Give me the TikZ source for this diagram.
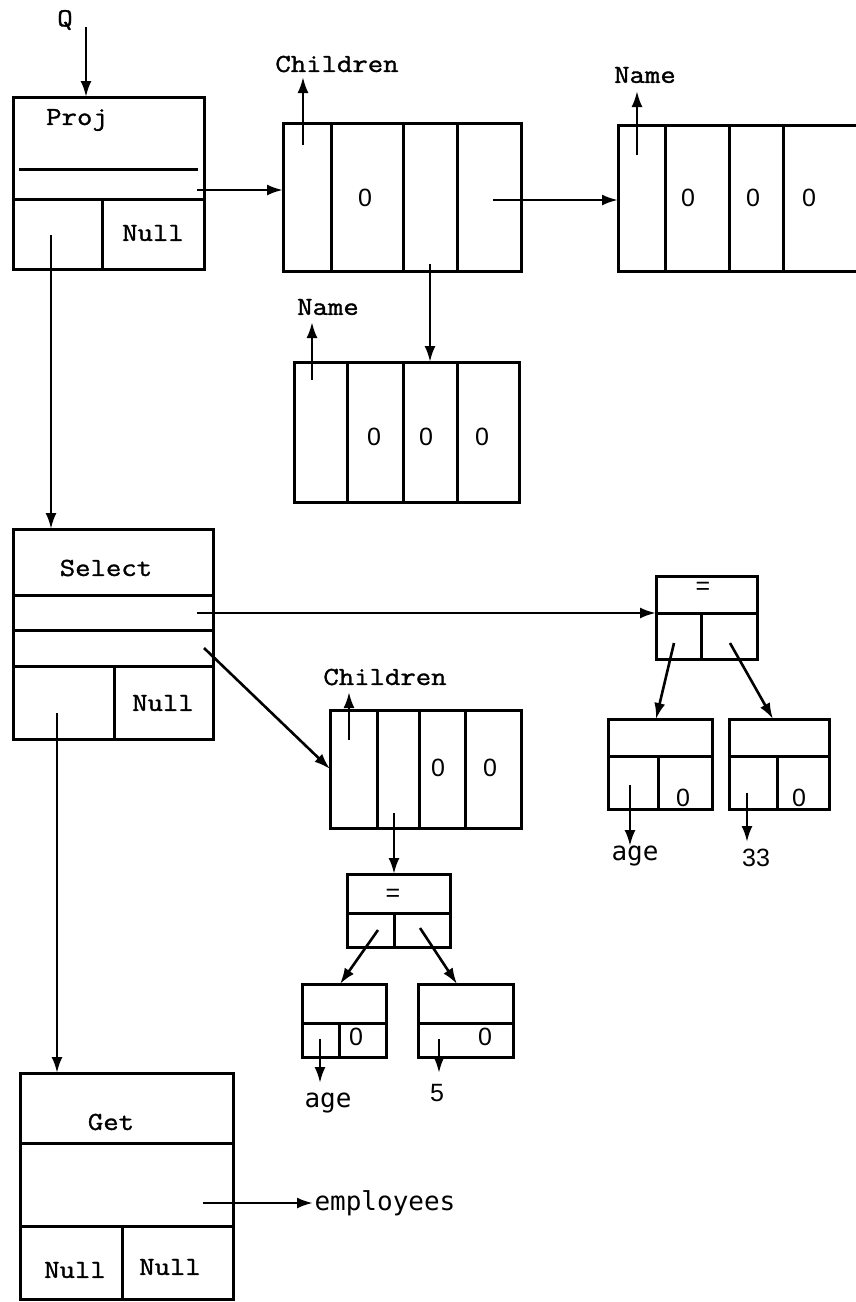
\documentclass[tikz,border=0pt]{standalone}
\usepackage{fontspec}
\usetikzlibrary{arrows.meta}
\newfontfamily\courf[FakeStretch=1.15,FakeBold=1.3]{Latin Modern Mono}
\newfontfamily\dvsf{DejaVu Sans Mono}
\newfontfamily\lsf{Liberation Sans}
\begin{document}
\begin{tikzpicture}[x=1pt,y=-1pt,line width=3pt,
  cell/.style={draw, rectangle, inner sep=0pt, outer sep=0pt, anchor=north west},
  arr/.style={-{Latex[length=16pt,width=11pt]}, line width=2.6pt},
  lbl/.style={font=\courf\fontsize{26}{30}\selectfont, inner sep=0pt},
  wrd/.style={font=\dvsf\fontsize{26}{30}\selectfont, inner sep=0pt},
  num/.style={font=\lsf\fontsize{25}{30}\selectfont, inner sep=0pt}]
\useasboundingbox (0,0) rectangle (856,1302);
\fill[white] (0,0) rectangle (856,1302);

% ---------- boxes ----------
\node[cell, minimum width=191pt, minimum height=172pt] (proj) at (13,97) {};
\node[cell, minimum width=238pt, minimum height=148pt] (ch1) at (283,123) {};
\node[cell, draw=none, minimum width=245pt, minimum height=146pt] (nm1) at (618,125) {};
\node[cell, minimum width=225pt, minimum height=140pt] (nm2) at (294,362) {};
\node[cell, minimum width=200pt, minimum height=210pt] (sel) at (13,529) {};
\node[cell, minimum width=101pt, minimum height=83pt] (eqr) at (656,576) {};
\node[cell, minimum width=104pt, minimum height=90pt] (la) at (608,719) {};
\node[cell, minimum width=100pt, minimum height=90pt] (lb) at (729,719) {};
\node[cell, minimum width=191pt, minimum height=118pt] (ch2) at (330,710) {};
\node[cell, minimum width=103pt, minimum height=73pt] (eqm) at (347,874) {};
\node[cell, minimum width=84pt, minimum height=73pt] (sa) at (302,984) {};
\node[cell, minimum width=95pt, minimum height=73pt] (sb) at (418,984) {};
\node[cell, minimum width=213pt, minimum height=226pt] (get) at (20,1073) {};

% ---------- inner lines ----------
% proj
\draw (19,169) -- (198,169);
\draw (13,199) -- (204,199);
\draw (102,199) -- (102,269);
% ch1
\foreach \xx in {331,403,457} \draw (\xx,123) -- (\xx,271);
% nm1 (open to the right)
\draw (nm1.north east) -- (nm1.north west) -- (nm1.south west) -- (nm1.south east);
\foreach \xx in {665,729,783} \draw (\xx,125) -- (\xx,271);
% nm2
\foreach \xx in {347,403,457} \draw (\xx,362) -- (\xx,502);
% sel
\foreach \yy in {595,630,666} \draw (13,\yy) -- (213,\yy);
\draw (114,666) -- (114,739);
% eqr
\draw (656,613) -- (757,613);
\draw (701,613) -- (701,659);
% la, lb
\draw (608,756) -- (712,756);
\draw (658,756) -- (658,809);
\draw (729,756) -- (829,756);
\draw (777,756) -- (777,809);
% ch2
\foreach \xx in {377,419,465} \draw (\xx,710) -- (\xx,828);
% eqm
\draw (347,913) -- (450,913);
\draw (394,913) -- (394,947);
% sa, sb
\draw (302,1023) -- (386,1023);
\draw (339,1023) -- (339,1057);
\draw (418,1023) -- (513,1023);
% get
\draw (20,1143) -- (233,1143);
\draw (20,1226) -- (233,1226);
\draw (122,1226) -- (122,1299);

% ---------- texts ----------
\node[lbl] (q) at (65,20) {Q};
\node[lbl] (tproj) at (77,120) {Proj};
\node[lbl] (tnull1) at (153,233) {Null};
\node[lbl] (tch1) at (337,64) {Children};
\node[num] (z1) at (365,198) {0};
\node[lbl] (tnm1) at (645,75) {Name};
\node[num] (z2) at (688,198) {0};
\node[num] (z3) at (753,198) {0};
\node[num] (z4) at (809,198) {0};
\node[lbl] (tnm2) at (328,307) {Name};
\node[num] (z5) at (374,437) {0};
\node[num] (z6) at (426,437) {0};
\node[num] (z7) at (482,437) {0};
\node[lbl] (tsel) at (106,568) {Select};
\node[lbl] (tnull2) at (163,703) {Null};
\node[lbl] (tch2) at (385,677) {Children};
\node[num] (z8) at (438,768) {0};
\node[num] (z9) at (490,768) {0};
\node[num] (teq1) at (703,588) {=};
\node[num] (z10) at (683,798) {0};
\node[num] (z11) at (799,798) {0};
\node[wrd] (tage1) at (635,856) {age};
\node[num] (t33) at (756,858) {33};
\node[num] (teq2) at (393,895) {=};
\node[num] (z12) at (356,1037) {0};
\node[num] (z13) at (485,1037) {0};
\node[wrd] (tage2) at (328,1103) {age};
\node[num] (t5) at (437,1093) {5};
\node[lbl] (tget) at (111,1122) {Get};
\node[lbl] (tnull3) at (75,1270) {Null};
\node[lbl] (tnull4) at (170,1267) {Null};
\node[wrd, anchor=west] (temp) at (313,1203) {employees};

% ---------- connector endpoints ----------
\coordinate (qs) at (86,27);
\coordinate (ps) at (197,190);
\coordinate (c1u) at (303,145);   \coordinate (c1ut) at (303,77);
\coordinate (c1r) at (493,200);
\coordinate (n1u) at (637,155);   \coordinate (n1ut) at (637,91);
\coordinate (c1d) at (430,264);
\coordinate (n2u) at (312,380);   \coordinate (n2ut) at (312,322);
\coordinate (pd) at (51,235);
\coordinate (s1) at (197,613);
\coordinate (s2) at (204,648);
\coordinate (c2u) at (349,740);   \coordinate (c2ut) at (349,692);
\coordinate (c2d) at (394,813);
\coordinate (eml) at (378,930);   \coordinate (emlt) at (340,984);
\coordinate (emr) at (420,928);   \coordinate (emrt) at (457,984);
\coordinate (sad) at (320,1039);  \coordinate (sadt) at (320,1083);
\coordinate (sbd) at (439,1039);  \coordinate (sbdt) at (439,1073);
\coordinate (erl) at (674,643);   \coordinate (erlt) at (656,719);
\coordinate (err) at (730,643);   \coordinate (errt) at (773,719);
\coordinate (lad) at (630,785);   \coordinate (ladt) at (630,846);
\coordinate (lbd) at (747,793);   \coordinate (lbdt) at (747,842);
\coordinate (sd) at (57,713);
\coordinate (gs) at (203,1203);

% ---------- connectors ----------
\draw[arr] (qs) -- (proj.north -| qs);
\draw[arr] (ps) -- (ch1.west |- ps);
\draw[arr] (c1u) -- (c1ut);
\draw[arr] (c1r) -- (nm1.west |- c1r);
\draw[arr] (n1u) -- (n1ut);
\draw[arr] (c1d) -- (nm2.north -| c1d);
\draw[arr] (n2u) -- (n2ut);
\draw[arr] (pd) -- (sel.north -| pd);
\draw[arr] (s1) -- (eqr.west |- s1);
\draw[arr] (s2) -- (ch2.west);
\draw[arr] (c2u) -- (c2ut);
\draw[arr] (c2d) -- (eqm.north -| c2d);
\draw[arr] (eml) -- (emlt);
\draw[arr] (emr) -- (emrt);
\draw[arr] (sad) -- (sadt);
\draw[arr] (sbd) -- (sbdt);
\draw[arr] (erl) -- (erlt);
\draw[arr] (err) -- (errt);
\draw[arr] (lad) -- (ladt);
\draw[arr] (lbd) -- (lbdt);
\draw[arr] (sd) -- (get.north -| sd);
\draw[arr] (gs) -- (temp.west);
\end{tikzpicture}
\end{document}
